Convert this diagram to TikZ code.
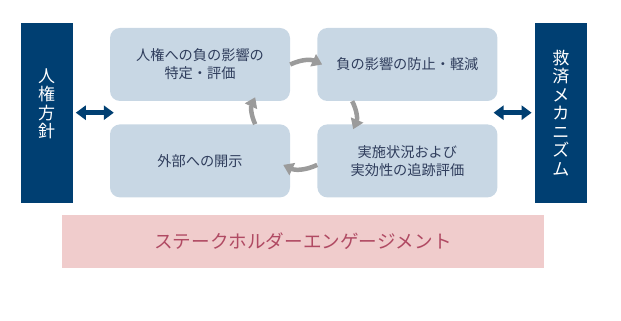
\documentclass[tikz,border=0pt]{standalone}
\usepackage{fontspec}
\setmainfont{Noto Sans CJK JP}
\usetikzlibrary{arrows.meta, calc, positioning}
\definecolor{policynavy}{RGB}{0, 63, 114}
\definecolor{stepfill}{RGB}{200, 215, 228}
\definecolor{steptext}{RGB}{47, 61, 92}
\definecolor{cyclegray}{RGB}{155, 155, 155}
\definecolor{engagefill}{RGB}{240, 204, 204}
\definecolor{engagetext}{RGB}{176, 74, 99}

\begin{document}
\begin{tikzpicture}[
	x=1pt, y=1pt,
	node distance=23pt and 27pt,
	stepbox/.style={fill=stepfill, rounded corners=10pt,
		minimum width=180pt, minimum height=73pt, inner sep=0pt,
		align=center, text=steptext, font=\fontsize{14.2pt}{18pt}\selectfont},
	policybar/.style={fill=policynavy, minimum width=52pt, minimum height=180pt,
		inner sep=0pt, align=center, text=white,
		font=\fontsize{17pt}{18.5pt}\selectfont},
	engagebar/.style={fill=engagefill, minimum width=482pt, minimum height=53pt,
		inner sep=0pt, text=engagetext, font=\fontsize{18.6pt}{20pt}\selectfont},
	cyclearr/.style={-{Triangle[width=13pt, length=10pt]}, line width=4.5pt,
		cyclegray, bend left=25},
	linkarr/.style={{Triangle[width=14pt, length=10pt]}-{Triangle[width=14pt, length=10pt]},
		line width=4.5pt, policynavy}
	]
	\useasboundingbox (0,0) rectangle (621,321);
	% PDCA-like cycle
	\node[stepbox] (identify) at (200,256.5) {人権への負の影響の\\特定・評価};
	\node[stepbox, right=of identify] (prevent) {負の影響の防止・軽減};
	\node[stepbox, below=of prevent] (track) {実施状況および\\実効性の追跡評価};
	\node[stepbox, below=of identify] (disclose) {外部への開示};
	\coordinate (cycleL) at ($(identify.south west)!0.5!(disclose.north west)$);
	\coordinate (cycleR) at ($(prevent.south east)!0.5!(track.north east)$);
	% side bars
	\node[policybar, left=37pt of cycleL,
		label={[align=center, text=white, font=\fontsize{17pt}{18.5pt}\selectfont,
		yshift=9pt]center:人\\権\\方\\針}] (policy) {};
	\node[policybar, right=37pt of cycleR] (remedy) {救\\済\\メ\\カ\\ニ\\ズ\\ム};
	\node[engagebar] (engage) at (303,79.5) {ステークホルダーエンゲージメント};
	\draw[cyclearr] (identify.east) to ([xshift=5pt]prevent.west);
	\draw[cyclearr] ([xshift=35pt]prevent.south west) to ([xshift=36pt,yshift=-5pt]prevent.south west |- track.north);
	\draw[cyclearr] ([yshift=-4pt]track.west) to ([xshift=-7pt,yshift=-4pt]disclose.east);
	\draw[cyclearr] ([xshift=-35pt]disclose.north east) to ([xshift=-35pt,yshift=4pt]identify.south east);
	\draw[linkarr, shorten <=3pt] (policy.east |- cycleL) -- ([xshift=4pt]cycleL);
	\draw[linkarr, shorten >=3pt] ([xshift=-4pt]cycleR) -- (remedy.west |- cycleR);
\end{tikzpicture}
\end{document}
